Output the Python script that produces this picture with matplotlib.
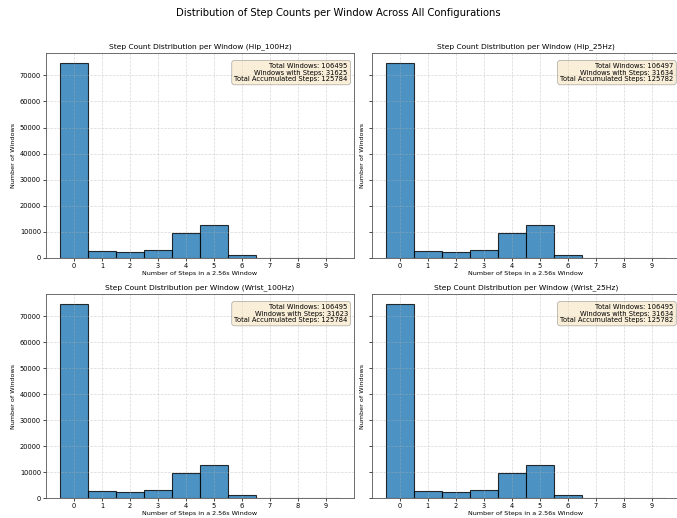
import numpy as np
import matplotlib
matplotlib.use('Agg')
import matplotlib.pyplot as plt

# 每个配置下，窗口内步数 0..9 的窗口数量
step_values = np.arange(10)
configs = ['Hip_100Hz', 'Hip_25Hz', 'Wrist_100Hz', 'Wrist_25Hz']
hip_100hz = [74870, 2800, 2400, 2900, 9561, 12639, 1250, 60, 10, 5]
hip_25hz = [74863, 2813, 2400, 2899, 9558, 12639, 1250, 60, 10, 5]
wrist_100hz = [74872, 2798, 2400, 2898, 9563, 12639, 1250, 60, 10, 5]
wrist_25hz = [74861, 2813, 2400, 2899, 9558, 12639, 1250, 60, 10, 5]
counts_list = [hip_100hz, hip_25hz, wrist_100hz, wrist_25hz]

fig = plt.figure(figsize=(6.77, 5.18), dpi=100)

# 子图位置 (left, bottom, width, height)，右侧一列稍微超出画布
positions = [
    (0.0679, 0.502, 0.455, 0.396),
    (0.549, 0.502, 0.455, 0.396),
    (0.0679, 0.0386, 0.455, 0.394),
    (0.549, 0.0386, 0.455, 0.394),
]

axes = []
for i, (name, counts) in enumerate(zip(configs, counts_list)):
    ax = fig.add_axes(positions[i], sharey=axes[0] if axes else None)
    axes.append(ax)
    counts = np.array(counts)
    ax.hist(step_values, bins=np.arange(-0.5, 10.5, 1), weights=counts,
            color='tab:blue', alpha=0.8, edgecolor='black', linewidth=0.8)
    ax.set_title(f'Step Count Distribution per Window ({name})', fontsize=5.4, pad=3)
    ax.set_xlabel('Number of Steps in a 2.56s Window', fontsize=4.6, labelpad=1.5)
    ax.set_ylabel('Number of Windows', fontsize=4.6, labelpad=3)
    ax.set_xticks(step_values)
    ax.tick_params(labelsize=4.8, length=2, width=0.5, pad=1.5)
    if i % 2 == 1:
        ax.tick_params(labelleft=False)
    ax.grid(True, linestyle='--', alpha=0.5, linewidth=0.5)
    for sp in ax.spines.values():
        sp.set_color('#555555')
        sp.set_linewidth(0.6)

    total = counts.sum()
    with_steps = counts[1:].sum()
    acc_steps = int((counts * step_values).sum())
    info = (f'Total Windows: {total}\nWindows with Steps: {with_steps}\n'
            f'Total Accumulated Steps: {acc_steps}')
    ax.text(0.98, 0.95, info, transform=ax.transAxes, fontsize=4.9,
            ha='right', va='top', linespacing=1.1,
            bbox=dict(boxstyle='round,pad=0.4', facecolor='wheat', alpha=0.5,
                      edgecolor='#555555', linewidth=0.5))

fig.suptitle('Distribution of Step Counts per Window Across All Configurations',
             fontsize=7.2, y=0.985)

fig.savefig('out.png', dpi=100)
